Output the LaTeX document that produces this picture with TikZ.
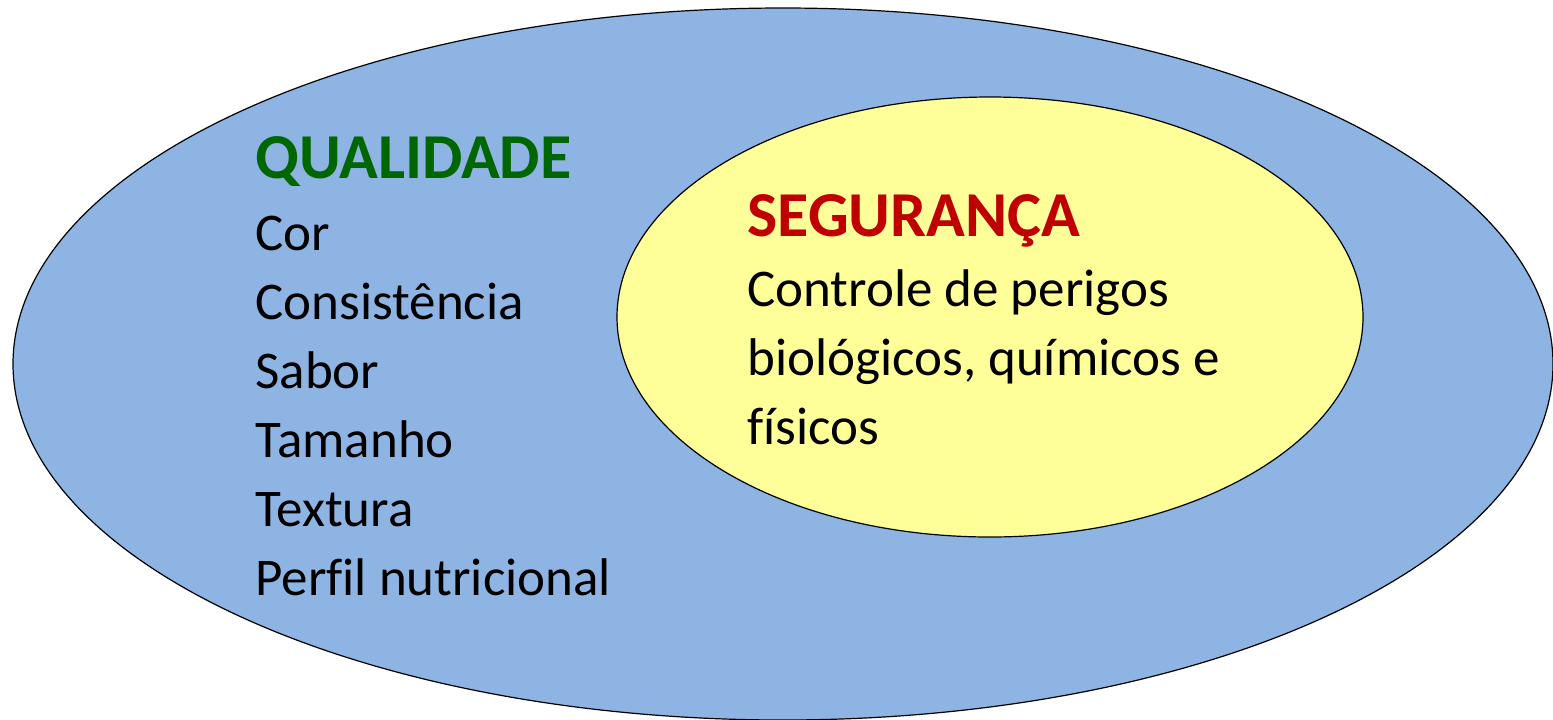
\documentclass[tikz,border=0pt]{standalone}
\usepackage{fontspec}
\setmainfont{Carlito}[Ligatures=NoCommon]
\definecolor{outerblue}{HTML}{8EB4E3}
\definecolor{inneryellow}{HTML}{FFFF99}
\definecolor{qualgreen}{HTML}{006600}
\definecolor{segred}{HTML}{C00000}
\tikzset{
  titletext/.style={anchor=base west, inner sep=0pt, font=\fontsize{32}{36}\selectfont\bfseries},
  itemtext/.style={anchor=base west, inner sep=0pt, font=\fontsize{26.5}{32}\selectfont}
}
\begin{document}
\begin{tikzpicture}[x=0.5pt, y=-0.5pt]
    \useasboundingbox (0, 0) rectangle (1553, 719);
    \draw[fill=outerblue, line width=0.6pt] (783, 364) ellipse [x radius=770, y radius=356];
    \draw[fill=inneryellow, line width=0.6pt] (990, 317) ellipse [x radius=373, y radius=220];

    \node[titletext, text=qualgreen] (qualidade) at (255, 178) {QUALIDADE};
    \foreach \item [count=\i] in {Cor, Consistência, Sabor, Tamanho, Textura, Perfil nutricional}
        \node[itemtext] (item\i) at (255, 181 + 69*\i) {\item};

    \node[titletext, text=segred] (seguranca) at (747, 236) {SEGURANÇA};
    \node[itemtext] (controle1) at (747, 306) {Controle de perigos};
    \node[itemtext] (controle2) at (747, 375) {biológicos, químicos e};
    \node[itemtext] (controle3) at (747, 444) {físicos};
\end{tikzpicture}
\end{document}
